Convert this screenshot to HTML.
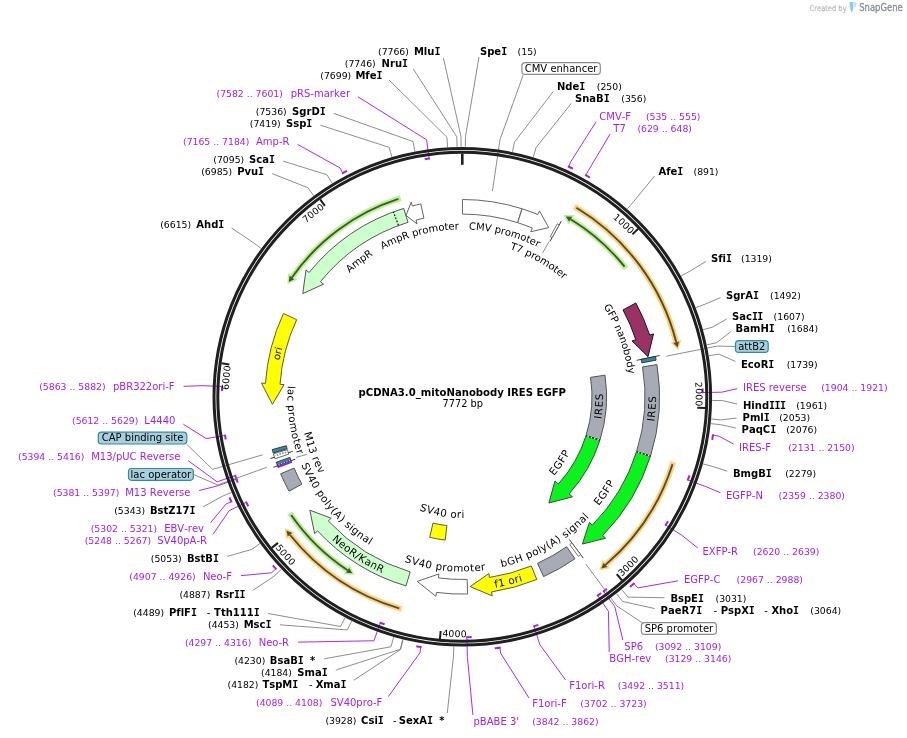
<!DOCTYPE html>
<html><head><meta charset="utf-8"><title>pCDNA3.0_mitoNanobody IRES EGFP</title>
<style>html,body{margin:0;padding:0;background:#fff}svg{display:block;will-change:transform}text{font-family:'DejaVu Sans','Liberation Sans',sans-serif;font-variant-ligatures:none;font-kerning:none}</style></head>
<body><svg width="907" height="738" viewBox="0 0 907 738">
<rect width="907" height="738" fill="#fff"/>
<defs>
<path id="tp1" d="M583.62 197.29 A233.50 233.50 0 0 1 630.34 234.67"/>
<path id="tp2" d="M690.37 346.75 A233.50 233.50 0 0 1 695.60 406.36"/>
<path id="tp3" d="M621.65 576.80 A240.40 240.40 0 0 0 661.17 531.87"/>
<path id="tp4" d="M442.17 636.36 A240.40 240.40 0 0 0 501.96 633.91"/>
<path id="tp5" d="M275.15 547.68 A240.40 240.40 0 0 0 318.21 589.24"/>
<path id="tp6" d="M230.59 425.65 A233.50 233.50 0 0 1 230.87 365.81"/>
<path id="tp7" d="M281.41 249.15 A233.50 233.50 0 0 1 324.88 208.02"/>
<path id="tp8" d="M309.94 327.21 A167.50 167.50 0 0 1 629.27 410.09"/>
<path id="tp9" d="M342.32 298.59 A155.05 155.05 0 0 1 608.64 448.05"/>
<path id="tp10" d="M432.64 231.95 A167.50 167.50 0 0 1 546.56 541.57"/>
<path id="tp11" d="M484.22 589.21 A193.65 193.65 0 0 0 507.51 208.50"/>
<path id="tp12" d="M477.49 536.63 A140.65 140.65 0 0 0 495.85 260.21"/>
<path id="tp13" d="M391.48 556.61 A174.80 174.80 0 0 0 583.51 270.85"/>
<path id="tp14" d="M413.22 507.56 A121.15 121.15 0 0 0 546.31 309.51"/>
<path id="tp15" d="M328.00 508.69 A174.80 174.80 0 0 0 626.77 337.59"/>
<path id="tp16" d="M285.39 475.56 A193.65 193.65 0 0 0 655.48 383.29"/>
<path id="tp17" d="M287.97 409.60 A174.80 174.80 0 0 0 630.50 444.39"/>
<path id="tp18" d="M341.15 397.22 A121.15 121.15 0 0 0 576.29 437.84"/>
<path id="tp19" d="M284.58 319.89 A193.65 193.65 0 0 0 603.00 529.85"/>
<path id="tp20" d="M327.42 285.61 A174.80 174.80 0 0 0 551.02 547.41"/>
<path id="tp21" d="M379.66 257.06 A162.35 162.35 0 0 0 492.16 556.38"/>
<path id="tp22" d="M408.57 230.46 A174.80 174.80 0 0 0 455.89 571.48"/>
<path id="tp23" d="M388.89 568.08 A186.35 186.35 0 0 1 472.70 210.74"/>
<path id="tp24" d="M313.32 473.36 A167.50 167.50 0 0 1 576.11 273.90"/>
<path id="tp25" d="M295.39 410.82 A167.50 167.50 0 0 1 614.35 326.54"/>
</defs>
<path d="M574.38 206.56 A220.80 220.80 0 0 1 675.96 341.08" fill="none" stroke="#ffd27a" stroke-width="5.8"/>
<path d="M681.37 339.67 L678.15 350.33 L670.54 342.50 Z" fill="#ffd27a"/>
<path d="M576.44 207.79 A220.80 220.80 0 0 1 676.25 342.25" fill="none" stroke="rgba(28,28,16,0.74)" stroke-width="1.9"/>
<path d="M679.06 341.53 L677.55 347.59 L673.44 342.96 Z" fill="rgba(28,28,16,0.74)"/>
<path d="M626.07 268.56 A208.00 208.00 0 0 0 571.67 219.87" fill="none" stroke="#b4f58c" stroke-width="5.8"/>
<path d="M574.61 215.11 L563.47 215.06 L568.72 224.64 Z" fill="#b4f58c"/>
<path d="M624.58 266.68 A208.00 208.00 0 0 0 570.64 219.25" fill="none" stroke="rgba(28,28,16,0.74)" stroke-width="1.9"/>
<path d="M572.15 216.77 L565.91 216.44 L569.13 221.72 Z" fill="rgba(28,28,16,0.74)"/>
<path d="M673.27 461.96 A220.80 220.80 0 0 1 606.40 564.10" fill="none" stroke="#ffd27a" stroke-width="5.8"/>
<path d="M610.06 568.34 L599.07 570.14 L602.75 559.85 Z" fill="#ffd27a"/>
<path d="M672.55 464.25 A220.80 220.80 0 0 1 605.49 564.88" fill="none" stroke="rgba(28,28,16,0.74)" stroke-width="1.9"/>
<path d="M607.37 567.08 L601.26 568.39 L603.61 562.67 Z" fill="rgba(28,28,16,0.74)"/>
<path d="M401.59 609.09 A220.80 220.80 0 0 1 290.66 535.69" fill="none" stroke="#ffd27a" stroke-width="5.8"/>
<path d="M286.30 539.22 L284.84 528.18 L295.01 532.17 Z" fill="#ffd27a"/>
<path d="M399.28 608.42 A220.80 220.80 0 0 1 289.91 534.76" fill="none" stroke="rgba(28,28,16,0.74)" stroke-width="1.9"/>
<path d="M287.64 536.57 L286.52 530.42 L292.17 532.95 Z" fill="rgba(28,28,16,0.74)"/>
<path d="M289.83 513.07 A208.00 208.00 0 0 0 346.57 569.63" fill="none" stroke="#b4f58c" stroke-width="5.8"/>
<path d="M343.46 574.28 L354.58 574.74 L349.69 564.98 Z" fill="#b4f58c"/>
<path d="M291.19 515.05 A208.00 208.00 0 0 0 347.57 570.30" fill="none" stroke="rgba(28,28,16,0.74)" stroke-width="1.9"/>
<path d="M345.97 572.72 L352.20 573.27 L349.17 567.88 Z" fill="rgba(28,28,16,0.74)"/>
<path d="M400.73 198.12 A208.00 208.00 0 0 0 292.62 276.50" fill="none" stroke="#b4f58c" stroke-width="5.8"/>
<path d="M288.05 273.26 L287.30 284.37 L297.19 279.74 Z" fill="#b4f58c"/>
<path d="M398.44 198.85 A208.00 208.00 0 0 0 291.93 277.48" fill="none" stroke="rgba(28,28,16,0.74)" stroke-width="1.9"/>
<path d="M289.55 275.82 L288.83 282.03 L294.30 279.15 Z" fill="rgba(28,28,16,0.74)"/>
<path d="M462.46 199.50 A197.30 197.30 0 0 1 521.96 208.74 L517.55 222.65 A182.70 182.70 0 0 0 462.45 214.10 Z" fill="#fff" stroke="#666" stroke-width="1.0" stroke-linejoin="miter" />
<path d="M522.12 208.79 A197.30 197.30 0 0 1 537.89 214.55 L539.42 210.86 L548.71 227.59 L530.77 231.74 L532.30 228.04 A182.70 182.70 0 0 0 517.69 222.70 Z" fill="#fff" stroke="#666" stroke-width="1.0" stroke-linejoin="miter" />
<line x1="549.82" y1="241.57" x2="561.31" y2="221.19" stroke="#222" stroke-width="0.9"/>
<path d="M557.24 223.85 A197.30 197.30 0 0 1 559.20 224.93 L552.03 237.65 A182.70 182.70 0 0 0 550.22 236.64 Z" fill="#fff" stroke="#555" stroke-width="0.8" stroke-linejoin="miter" />
<path d="M635.86 302.98 A197.30 197.30 0 0 1 649.72 335.13 L653.51 333.88 L648.02 356.71 L632.05 340.95 L635.85 339.70 A182.70 182.70 0 0 0 623.02 309.92 Z" fill="#993366" stroke="#241018" stroke-width="1.0" stroke-linejoin="miter" />
<line x1="636.73" y1="360.32" x2="659.63" y2="355.53" stroke="#222" stroke-width="0.9"/>
<path d="M655.42 356.41 A197.30 197.30 0 0 1 656.17 360.17 L641.82 362.88 A182.70 182.70 0 0 0 641.13 359.40 Z" fill="#2e8ba3" stroke="#222" stroke-width="0.8" stroke-linejoin="miter" />
<path d="M656.95 364.57 A197.30 197.30 0 0 1 650.51 456.01 L636.58 451.63 A182.70 182.70 0 0 0 642.55 366.95 Z" fill="#a6abb6" stroke="#555" stroke-width="1.0" stroke-linejoin="miter" />
<path d="M650.46 456.16 A197.30 197.30 0 0 1 602.71 535.41 L605.55 538.22 L582.35 544.07 L589.47 522.34 L592.32 525.15 A182.70 182.70 0 0 0 636.54 451.77 Z" fill="#0cf21c" stroke="#3c4a3c" stroke-width="1.0" stroke-linejoin="miter" />
<line x1="636.56" y1="451.70" x2="650.48" y2="456.08" stroke="#2a2a2a" stroke-width="1.2"/>
<line x1="637.99" y1="452.15" x2="650.48" y2="456.08" stroke="#fff" stroke-width="1.3" stroke-dasharray="1.3 2.2"/>
<line x1="569.22" y1="539.36" x2="583.26" y2="558.08" stroke="#222" stroke-width="0.9"/>
<path d="M580.68 554.64 A197.30 197.30 0 0 1 578.37 556.34 L569.78 544.54 A182.70 182.70 0 0 0 571.92 542.96 Z" fill="#fff" stroke="#555" stroke-width="0.8" stroke-linejoin="miter" />
<path d="M574.99 558.75 A197.30 197.30 0 0 1 543.55 576.59 L537.54 563.29 A182.70 182.70 0 0 0 566.66 546.76 Z" fill="#a6abb6" stroke="#555" stroke-width="1.0" stroke-linejoin="miter" />
<path d="M536.81 579.49 A197.30 197.30 0 0 1 491.61 591.91 L492.21 595.87 L470.13 586.64 L488.85 573.52 L489.44 577.47 A182.70 182.70 0 0 0 531.29 565.97 Z" fill="#ffff00" stroke="#5c5c3c" stroke-width="1.0" stroke-linejoin="miter" />
<path d="M467.56 594.03 A197.30 197.30 0 0 1 436.45 592.40 L435.92 596.36 L417.27 581.39 L438.89 573.96 L438.36 577.92 A182.70 182.70 0 0 0 467.17 579.43 Z" fill="#fff" stroke="#666" stroke-width="1.0" stroke-linejoin="miter" />
<path d="M405.99 585.89 A197.30 197.30 0 0 1 317.58 530.91 L314.65 533.63 L309.84 510.19 L331.23 518.26 L328.29 520.98 A182.70 182.70 0 0 0 410.16 571.90 Z" fill="#ccffcc" stroke="#555" stroke-width="1.0" stroke-linejoin="miter" />
<path d="M289.04 491.18 A197.30 197.30 0 0 1 280.65 473.81 L294.09 468.11 A182.70 182.70 0 0 0 301.86 484.20 Z" fill="#a6abb6" stroke="#555" stroke-width="1.0" stroke-linejoin="miter" />
<line x1="295.36" y1="459.13" x2="273.43" y2="467.31" stroke="#222" stroke-width="0.9"/>
<path d="M278.14 467.60 A197.30 197.30 0 0 1 277.24 465.21 L290.93 460.15 A182.70 182.70 0 0 0 291.77 462.36 Z" fill="#a020f0" stroke="#5a1a80" stroke-width="0.8" stroke-linejoin="miter" />
<path d="M277.19 465.06 A197.30 197.30 0 0 1 276.16 462.21 L289.93 457.37 A182.70 182.70 0 0 0 290.88 460.01 Z" fill="#2e8ba3" stroke="#222" stroke-width="0.8" stroke-linejoin="miter" />
<line x1="290.16" y1="460.36" x2="277.68" y2="464.96" stroke="#fff" stroke-width="0.8" stroke-dasharray="1.4 1.4"/>
<line x1="292.66" y1="451.37" x2="270.39" y2="458.54" stroke="#222" stroke-width="0.9"/>
<path d="M274.97 458.74 A197.30 197.30 0 0 1 273.44 453.87 L287.41 449.65 A182.70 182.70 0 0 0 288.84 454.16 Z" fill="#fff" stroke="#444" stroke-width="0.8" stroke-linejoin="miter" />
<line x1="286.30" y1="452.17" x2="275.33" y2="455.62" stroke="#888" stroke-width="1.6" stroke-dasharray="1.6 1.2"/>
<path d="M273.16 452.96 A197.30 197.30 0 0 1 272.19 449.58 L286.26 445.68 A182.70 182.70 0 0 0 287.16 448.80 Z" fill="#2e8ba3" stroke="#222" stroke-width="0.8" stroke-linejoin="miter" />
<path d="M283.44 313.52 A197.30 197.30 0 0 0 265.46 383.34 L261.47 383.07 L272.45 404.32 L284.02 384.61 L280.03 384.33 A182.70 182.70 0 0 1 296.67 319.68 Z" fill="#ffff00" stroke="#5c5c3c" stroke-width="1.0" stroke-linejoin="miter" />
<path d="M403.70 208.40 A197.30 197.30 0 0 0 309.12 272.45 L306.01 269.93 L302.75 293.63 L323.56 284.17 L320.45 281.65 A182.70 182.70 0 0 1 408.04 222.34 Z" fill="#ccffcc" stroke="#555" stroke-width="1.0" stroke-linejoin="miter" />
<line x1="398.43" y1="225.31" x2="393.44" y2="211.91" stroke="#000" stroke-width="1.1" stroke-dasharray="1.8 1.5"/>
<path d="M420.82 203.91 A197.30 197.30 0 0 0 412.29 205.94 L411.27 202.07 L406.02 215.33 L417.00 223.94 L415.99 220.07 A182.70 182.70 0 0 1 423.89 218.18 Z" fill="#fff" stroke="#666" stroke-width="1.0" stroke-linejoin="miter" />
<path d="M604.97 375.18 A144.30 144.30 0 0 1 599.95 440.10 L586.02 435.72 A129.70 129.70 0 0 0 590.54 377.37 Z" fill="#a6abb6" stroke="#555" stroke-width="1.0" stroke-linejoin="miter" />
<path d="M599.91 440.21 A144.30 144.30 0 0 1 569.13 493.80 L572.46 496.83 L548.86 502.99 L554.99 480.96 L558.32 483.99 A129.70 129.70 0 0 0 585.99 435.82 Z" fill="#0cf21c" stroke="#3c4a3c" stroke-width="1.0" stroke-linejoin="miter" />
<line x1="586.01" y1="435.77" x2="599.93" y2="440.16" stroke="#2a2a2a" stroke-width="1.2"/>
<line x1="587.44" y1="436.22" x2="599.93" y2="440.16" stroke="#fff" stroke-width="1.3" stroke-dasharray="1.3 2.2"/>
<path d="M445.19 540.08 A144.30 144.30 0 0 1 429.69 537.37 L432.99 523.14 A129.70 129.70 0 0 0 446.92 525.59 Z" fill="#ffff00" stroke="#5c5c3c" stroke-width="1.0" stroke-linejoin="miter" />
<polyline points="443.42,57.88 461.04,136.80 461.09,146.80" fill="none" stroke="#808080" stroke-width="0.9" stroke-linejoin="round"/>
<polyline points="413.28,68.94 456.84,136.86 457.05,146.86" fill="none" stroke="#808080" stroke-width="0.9" stroke-linejoin="round"/>
<polyline points="388.98,79.97 446.96,137.25 447.55,147.24" fill="none" stroke="#808080" stroke-width="0.9" stroke-linejoin="round"/>
<polyline points="333.80,113.39 412.99,141.52 414.89,151.34" fill="none" stroke="#808080" stroke-width="0.9" stroke-linejoin="round"/>
<polyline points="320.46,125.20 389.10,147.32 391.92,156.91" fill="none" stroke="#808080" stroke-width="0.9" stroke-linejoin="round"/>
<polyline points="283.08,161.13 327.00,174.78 332.20,183.32" fill="none" stroke="#808080" stroke-width="0.9" stroke-linejoin="round"/>
<polyline points="272.11,173.61 307.81,187.67 313.76,195.72" fill="none" stroke="#808080" stroke-width="0.9" stroke-linejoin="round"/>
<polyline points="231.60,227.97 253.05,242.48 261.10,248.42" fill="none" stroke="#808080" stroke-width="0.9" stroke-linejoin="round"/>
<polyline points="203.12,506.86 222.11,496.35 231.35,492.52" fill="none" stroke="#808080" stroke-width="0.9" stroke-linejoin="round"/>
<polyline points="227.14,556.36 251.81,549.42 259.90,543.55" fill="none" stroke="#808080" stroke-width="0.9" stroke-linejoin="round"/>
<polyline points="252.83,590.37 274.12,576.21 281.36,569.31" fill="none" stroke="#808080" stroke-width="0.9" stroke-linejoin="round"/>
<polyline points="268.09,613.49 340.51,626.51 345.20,617.68" fill="none" stroke="#808080" stroke-width="0.9" stroke-linejoin="round"/>
<polyline points="279.98,624.79 347.25,629.96 351.67,620.99" fill="none" stroke="#808080" stroke-width="0.9" stroke-linejoin="round"/>
<polyline points="324.09,658.81 390.92,646.81 393.67,637.19" fill="none" stroke="#808080" stroke-width="0.9" stroke-linejoin="round"/>
<polyline points="335.86,670.10 400.27,649.29 402.65,639.58" fill="none" stroke="#808080" stroke-width="0.9" stroke-linejoin="round"/>
<polyline points="353.85,680.20 400.67,649.39 403.04,639.68" fill="none" stroke="#808080" stroke-width="0.9" stroke-linejoin="round"/>
<polyline points="447.27,712.99 453.47,656.65 453.81,646.66" fill="none" stroke="#808080" stroke-width="0.9" stroke-linejoin="round"/>
<polyline points="479.00,56.97 465.45,136.82 465.33,146.82" fill="none" stroke="#808080" stroke-width="0.9" stroke-linejoin="round"/>
<polyline points="553.25,91.51 514.49,142.09 512.48,151.89" fill="none" stroke="#808080" stroke-width="0.9" stroke-linejoin="round"/>
<polyline points="571.26,103.44 536.10,147.49 533.26,157.08" fill="none" stroke="#808080" stroke-width="0.9" stroke-linejoin="round"/>
<polyline points="654.60,175.99 633.80,201.39 627.21,208.90" fill="none" stroke="#808080" stroke-width="0.9" stroke-linejoin="round"/>
<polyline points="705.87,261.46 689.91,271.13 681.16,275.97" fill="none" stroke="#808080" stroke-width="0.9" stroke-linejoin="round"/>
<polyline points="720.47,297.67 705.21,304.09 695.87,307.65" fill="none" stroke="#808080" stroke-width="0.9" stroke-linejoin="round"/>
<polyline points="726.80,318.95 712.77,327.04 703.13,329.72" fill="none" stroke="#808080" stroke-width="0.9" stroke-linejoin="round"/>
<polyline points="730.87,331.64 716.62,342.76 706.84,344.84" fill="none" stroke="#808080" stroke-width="0.9" stroke-linejoin="round"/>
<polyline points="735.50,361.44 718.77,354.11 708.91,355.76" fill="none" stroke="#808080" stroke-width="0.9" stroke-linejoin="round"/>
<polyline points="737.15,404.01 722.27,400.58 712.27,400.44" fill="none" stroke="#808080" stroke-width="0.9" stroke-linejoin="round"/>
<polyline points="736.64,418.06 721.27,419.89 711.31,419.00" fill="none" stroke="#808080" stroke-width="0.9" stroke-linejoin="round"/>
<polyline points="735.74,428.04 720.80,424.70 710.86,423.63" fill="none" stroke="#808080" stroke-width="0.9" stroke-linejoin="round"/>
<polyline points="727.28,471.14 712.77,466.56 703.13,463.88" fill="none" stroke="#808080" stroke-width="0.9" stroke-linejoin="round"/>
<polyline points="664.40,597.75 628.04,597.12 621.67,589.42" fill="none" stroke="#808080" stroke-width="0.9" stroke-linejoin="round"/>
<polyline points="654.74,608.56 622.64,601.47 616.47,593.60" fill="none" stroke="#808080" stroke-width="0.9" stroke-linejoin="round"/>
<polyline points="357.93,96.77 426.54,139.78 429.17,158.69" fill="none" stroke="#a020f0" stroke-width="0.95" stroke-linejoin="round"/>
<path d="M429.96 158.58 A240.40 240.40 0 0 0 424.73 159.35" fill="none" stroke="#a020f0" stroke-width="2.0"/>
<polyline points="297.62,144.44 340.01,167.92 342.79,173.13" fill="none" stroke="#a020f0" stroke-width="0.95" stroke-linejoin="round"/>
<path d="M342.08 173.50 A253.60 253.60 0 0 1 346.95 170.95" fill="none" stroke="#a020f0" stroke-width="2.0"/>
<polyline points="183.60,386.32 203.04,385.68 222.12,386.50" fill="none" stroke="#a020f0" stroke-width="0.95" stroke-linejoin="round"/>
<path d="M222.16 385.70 A240.40 240.40 0 0 0 221.97 390.99" fill="none" stroke="#a020f0" stroke-width="2.0"/>
<polyline points="183.32,424.18 206.18,438.58 225.04,435.50" fill="none" stroke="#a020f0" stroke-width="0.95" stroke-linejoin="round"/>
<path d="M224.91 434.71 A240.40 240.40 0 0 0 225.73 439.55" fill="none" stroke="#a020f0" stroke-width="2.0"/>
<polyline points="188.05,460.58 217.13,481.84 235.18,475.58" fill="none" stroke="#a020f0" stroke-width="0.95" stroke-linejoin="round"/>
<path d="M234.91 474.83 A240.40 240.40 0 0 0 236.89 480.36" fill="none" stroke="#a020f0" stroke-width="2.0"/>
<polyline points="199.18,490.52 218.47,485.60 236.41,479.06" fill="none" stroke="#a020f0" stroke-width="0.95" stroke-linejoin="round"/>
<path d="M236.14 478.31 A240.40 240.40 0 0 0 237.78 482.72" fill="none" stroke="#a020f0" stroke-width="2.0"/>
<polyline points="210.46,522.85 226.00,504.04 231.37,501.61" fill="none" stroke="#a020f0" stroke-width="0.95" stroke-linejoin="round"/>
<path d="M231.70 502.33 A253.60 253.60 0 0 1 229.47 497.31" fill="none" stroke="#a020f0" stroke-width="2.0"/>
<polyline points="212.94,534.46 229.13,510.69 246.29,502.30" fill="none" stroke="#a020f0" stroke-width="0.95" stroke-linejoin="round"/>
<path d="M245.94 501.59 A240.40 240.40 0 0 0 248.30 506.32" fill="none" stroke="#a020f0" stroke-width="2.0"/>
<polyline points="240.97,575.61 271.61,572.81 275.95,568.80" fill="none" stroke="#a020f0" stroke-width="0.95" stroke-linejoin="round"/>
<path d="M276.49 569.39 A253.60 253.60 0 0 1 272.79 565.32" fill="none" stroke="#a020f0" stroke-width="2.0"/>
<polyline points="298.00,642.13 373.90,640.78 380.40,622.82" fill="none" stroke="#a020f0" stroke-width="0.95" stroke-linejoin="round"/>
<path d="M379.65 622.55 A240.40 240.40 0 0 0 384.64 624.31" fill="none" stroke="#a020f0" stroke-width="2.0"/>
<polyline points="388.39,696.57 419.90,652.81 420.87,646.99" fill="none" stroke="#a020f0" stroke-width="0.95" stroke-linejoin="round"/>
<path d="M421.66 647.12 A253.60 253.60 0 0 1 416.24 646.18" fill="none" stroke="#a020f0" stroke-width="2.0"/>
<polyline points="596.08,121.81 571.07,161.20 568.60,166.55" fill="none" stroke="#a020f0" stroke-width="0.95" stroke-linejoin="round"/>
<path d="M567.87 166.22 A253.60 253.60 0 0 1 573.03 168.65" fill="none" stroke="#a020f0" stroke-width="2.0"/>
<polyline points="610.23,133.90 588.64,170.13 585.77,175.29" fill="none" stroke="#a020f0" stroke-width="0.95" stroke-linejoin="round"/>
<path d="M585.07 174.90 A253.60 253.60 0 0 1 589.85 177.61" fill="none" stroke="#a020f0" stroke-width="2.0"/>
<polyline points="737.15,388.68 721.76,392.18 702.66,392.52" fill="none" stroke="#a020f0" stroke-width="0.95" stroke-linejoin="round"/>
<path d="M702.67 393.32 A240.40 240.40 0 0 0 702.55 388.42" fill="none" stroke="#a020f0" stroke-width="2.0"/>
<polyline points="733.72,444.11 718.81,436.09 712.98,435.20" fill="none" stroke="#a020f0" stroke-width="0.95" stroke-linejoin="round"/>
<path d="M713.10 434.40 A253.60 253.60 0 0 1 712.22 439.83" fill="none" stroke="#a020f0" stroke-width="2.0"/>
<polyline points="720.47,492.73 705.77,486.58 687.85,479.97" fill="none" stroke="#a020f0" stroke-width="0.95" stroke-linejoin="round"/>
<path d="M687.57 480.72 A240.40 240.40 0 0 0 689.50 475.38" fill="none" stroke="#a020f0" stroke-width="2.0"/>
<polyline points="697.81,548.01 681.79,535.23 665.64,525.04" fill="none" stroke="#a020f0" stroke-width="0.95" stroke-linejoin="round"/>
<path d="M665.21 525.72 A240.40 240.40 0 0 0 668.00 521.22" fill="none" stroke="#a020f0" stroke-width="2.0"/>
<polyline points="678.09,580.80 637.84,587.91 633.85,583.57" fill="none" stroke="#a020f0" stroke-width="0.95" stroke-linejoin="round"/>
<path d="M634.44 583.03 A253.60 253.60 0 0 1 630.06 586.99" fill="none" stroke="#a020f0" stroke-width="2.0"/>
<polyline points="622.89,640.12 614.80,606.76 603.57,591.31" fill="none" stroke="#a020f0" stroke-width="0.95" stroke-linejoin="round"/>
<path d="M602.92 591.78 A240.40 240.40 0 0 0 606.87 588.87" fill="none" stroke="#a020f0" stroke-width="2.0"/>
<polyline points="609.19,651.95 608.45,611.23 597.69,595.45" fill="none" stroke="#a020f0" stroke-width="0.95" stroke-linejoin="round"/>
<path d="M597.03 595.90 A240.40 240.40 0 0 0 601.06 593.11" fill="none" stroke="#a020f0" stroke-width="2.0"/>
<polyline points="565.67,680.10 539.77,644.47 534.07,626.24" fill="none" stroke="#a020f0" stroke-width="0.95" stroke-linejoin="round"/>
<path d="M533.31 626.47 A240.40 240.40 0 0 0 538.34 624.86" fill="none" stroke="#a020f0" stroke-width="2.0"/>
<polyline points="528.99,697.98 500.76,653.43 499.88,647.60" fill="none" stroke="#a020f0" stroke-width="0.95" stroke-linejoin="round"/>
<path d="M500.68 647.48 A253.60 253.60 0 0 1 494.83 648.31" fill="none" stroke="#a020f0" stroke-width="2.0"/>
<polyline points="472.93,715.08 467.33,656.25 466.96,637.15" fill="none" stroke="#a020f0" stroke-width="0.95" stroke-linejoin="round"/>
<path d="M466.16 637.17 A240.40 240.40 0 0 0 471.65 637.02" fill="none" stroke="#a020f0" stroke-width="2.0"/>
<polyline points="523.20,75.00 500.00,139.55 492.46,191.00" fill="none" stroke="#808080" stroke-width="0.9"/>
<polyline points="735.50,346.50 717.30,346.05 666.30,356.20" fill="none" stroke="#808080" stroke-width="0.9"/>
<polyline points="642.00,622.60 616.79,605.93 585.89,564.10" fill="none" stroke="#808080" stroke-width="0.9"/>
<polyline points="186.60,444.20 212.64,469.39 262.57,454.87" fill="none" stroke="#808080" stroke-width="0.9"/>
<polyline points="193.30,474.40 217.71,484.98 266.63,467.34" fill="none" stroke="#808080" stroke-width="0.9"/>
<line x1="548.85" y1="241.83" x2="542.51" y2="253.18" stroke="#808080" stroke-width="0.9"/>
<line x1="296.10" y1="457.40" x2="306.90" y2="454.40" stroke="#808080" stroke-width="0.9"/>
<path d="M849.7 1.9 L853.4 1.9 L853.4 8 L852 12.6 L851.3 12.6 L849.7 6.2 Z" fill="#86ccf4"/><path d="M853.9 2.2 L855.5 2.2 Q856.8 3.6 856.3 5.2 L855 7.2 L853.9 7.2 Z" fill="#bfe3f9"/>
<circle cx="462.3" cy="396.8" r="248.3" fill="none" stroke="#1f1f1f" stroke-width="3.0"/>
<circle cx="462.3" cy="396.8" r="244.5" fill="none" stroke="#1f1f1f" stroke-width="3.0"/>
<line x1="462.30" y1="153.60" x2="462.30" y2="164.80" stroke="#1f1f1f" stroke-width="2.6"/>
<line x1="638.18" y1="228.84" x2="632.40" y2="234.36" stroke="#1f1f1f" stroke-width="2.0"/>
<line x1="705.24" y1="408.00" x2="697.25" y2="407.63" stroke="#1f1f1f" stroke-width="2.0"/>
<line x1="621.98" y1="580.23" x2="616.73" y2="574.20" stroke="#1f1f1f" stroke-width="2.0"/>
<line x1="439.92" y1="638.97" x2="440.65" y2="631.00" stroke="#1f1f1f" stroke-width="2.0"/>
<line x1="271.70" y1="547.86" x2="277.97" y2="542.89" stroke="#1f1f1f" stroke-width="2.0"/>
<line x1="221.42" y1="363.29" x2="229.34" y2="364.39" stroke="#1f1f1f" stroke-width="2.0"/>
<line x1="320.18" y1="199.45" x2="324.85" y2="205.94" stroke="#1f1f1f" stroke-width="2.0"/>
<text font-size="9.3" fill="#000" letter-spacing="0.15"><textPath href="#tp1" startOffset="100%" text-anchor="end">1000</textPath></text>
<text font-size="9.3" fill="#000" letter-spacing="0.15"><textPath href="#tp2" startOffset="100%" text-anchor="end">2000</textPath></text>
<text font-size="9.3" fill="#000" letter-spacing="0.25"><textPath href="#tp3" startOffset="0%" text-anchor="start">3000</textPath></text>
<text font-size="9.3" fill="#000" letter-spacing="0.25"><textPath href="#tp4" startOffset="0%" text-anchor="start">4000</textPath></text>
<text font-size="9.3" fill="#000" letter-spacing="0.25"><textPath href="#tp5" startOffset="0%" text-anchor="start">5000</textPath></text>
<text font-size="9.3" fill="#000" letter-spacing="0.15"><textPath href="#tp6" startOffset="100%" text-anchor="end">6000</textPath></text>
<text font-size="9.3" fill="#000" letter-spacing="0.15"><textPath href="#tp7" startOffset="100%" text-anchor="end">7000</textPath></text>
<text font-size="10" fill="#000" font-weight="normal"><textPath href="#tp8" startOffset="50%" text-anchor="middle">CMV promoter</textPath></text>
<text font-size="10" fill="#000" font-weight="normal"><textPath href="#tp9" startOffset="50%" text-anchor="middle">T7 promoter</textPath></text>
<text font-size="10" fill="#000" font-weight="normal"><textPath href="#tp10" startOffset="50%" text-anchor="middle">GFP nanobody</textPath></text>
<text font-size="10.3" fill="#000" font-weight="normal" letter-spacing="0.85"><textPath href="#tp11" startOffset="50%" text-anchor="middle">IRES</textPath></text>
<text font-size="10.3" fill="#000" font-weight="normal" letter-spacing="0.85"><textPath href="#tp12" startOffset="50%" text-anchor="middle">IRES</textPath></text>
<text font-size="10.3" fill="#000" font-weight="normal" letter-spacing="0.65"><textPath href="#tp13" startOffset="50%" text-anchor="middle">EGFP</textPath></text>
<text font-size="10.3" fill="#000" font-weight="normal" letter-spacing="0.65"><textPath href="#tp14" startOffset="50%" text-anchor="middle">EGFP</textPath></text>
<text font-size="10.3" fill="#000" font-weight="normal" letter-spacing="0.36"><textPath href="#tp15" startOffset="50%" text-anchor="middle">bGH poly(A) signal</textPath></text>
<text font-size="10.3" fill="#000" font-weight="normal" letter-spacing="0.36"><textPath href="#tp16" startOffset="50%" text-anchor="middle">f1 ori</textPath></text>
<text font-size="10.3" fill="#000" font-weight="normal" letter-spacing="0.36"><textPath href="#tp17" startOffset="50%" text-anchor="middle">SV40 promoter</textPath></text>
<text font-size="10.3" fill="#000" font-weight="normal" letter-spacing="0.36"><textPath href="#tp18" startOffset="50%" text-anchor="middle">SV40 ori</textPath></text>
<text font-size="10.3" fill="#000" font-weight="normal" letter-spacing="0.36"><textPath href="#tp19" startOffset="50%" text-anchor="middle">NeoR/KanR</textPath></text>
<text font-size="10.3" fill="#000" font-weight="normal" letter-spacing="0.36"><textPath href="#tp20" startOffset="50%" text-anchor="middle">SV40 poly(A) signal</textPath></text>
<text font-size="10.3" fill="#000" font-weight="normal" letter-spacing="0.36"><textPath href="#tp21" startOffset="50%" text-anchor="middle">M13 rev</textPath></text>
<text font-size="10.3" fill="#000" font-weight="normal" letter-spacing="0.36"><textPath href="#tp22" startOffset="50%" text-anchor="middle">lac promoter</textPath></text>
<text font-size="10" fill="#000" font-weight="normal"><textPath href="#tp23" startOffset="50%" text-anchor="middle">ori</textPath></text>
<text font-size="10" fill="#000" font-weight="normal"><textPath href="#tp24" startOffset="50%" text-anchor="middle">AmpR</textPath></text>
<text font-size="10" fill="#000" font-weight="normal"><textPath href="#tp25" startOffset="50%" text-anchor="middle">AmpR promoter</textPath></text>
<text x="439.90" y="54.70" text-anchor="end" font-size="10" font-weight="bold" fill="#000">Mlu<tspan font-family="'DejaVu Sans Mono','Liberation Mono',monospace" letter-spacing="-0.55">I</tspan></text>
<text x="378.00" y="54.70" text-anchor="start" font-size="9.3" fill="#000">(7766)</text>
<text x="407.50" y="66.70" text-anchor="end" font-size="10" font-weight="bold" fill="#000">Nru<tspan font-family="'DejaVu Sans Mono','Liberation Mono',monospace" letter-spacing="-0.55">I</tspan></text>
<text x="344.80" y="66.70" text-anchor="start" font-size="9.3" fill="#000">(7746)</text>
<text x="382.00" y="78.70" text-anchor="end" font-size="10" font-weight="bold" fill="#000">Mfe<tspan font-family="'DejaVu Sans Mono','Liberation Mono',monospace" letter-spacing="-0.55">I</tspan></text>
<text x="320.30" y="78.70" text-anchor="start" font-size="9.3" fill="#000">(7699)</text>
<text x="325.20" y="114.70" text-anchor="end" font-size="10" font-weight="bold" fill="#000">SgrD<tspan font-family="'DejaVu Sans Mono','Liberation Mono',monospace" letter-spacing="-0.55">I</tspan></text>
<text x="255.80" y="114.70" text-anchor="start" font-size="9.3" fill="#000">(7536)</text>
<text x="311.80" y="126.70" text-anchor="end" font-size="10" font-weight="bold" fill="#000">Ssp<tspan font-family="'DejaVu Sans Mono','Liberation Mono',monospace" letter-spacing="-0.55">I</tspan></text>
<text x="249.80" y="126.70" text-anchor="start" font-size="9.3" fill="#000">(7419)</text>
<text x="274.40" y="162.70" text-anchor="end" font-size="10" font-weight="bold" fill="#000">Sca<tspan font-family="'DejaVu Sans Mono','Liberation Mono',monospace" letter-spacing="-0.55">I</tspan></text>
<text x="213.30" y="162.70" text-anchor="start" font-size="9.3" fill="#000">(7095)</text>
<text x="263.60" y="174.70" text-anchor="end" font-size="10" font-weight="bold" fill="#000">Pvu<tspan font-family="'DejaVu Sans Mono','Liberation Mono',monospace" letter-spacing="-0.55">I</tspan></text>
<text x="201.20" y="174.70" text-anchor="start" font-size="9.3" fill="#000">(6985)</text>
<text x="223.80" y="227.70" text-anchor="end" font-size="10" font-weight="bold" fill="#000">Ahd<tspan font-family="'DejaVu Sans Mono','Liberation Mono',monospace" letter-spacing="-0.55">I</tspan></text>
<text x="160.20" y="227.70" text-anchor="start" font-size="9.3" fill="#000">(6615)</text>
<text x="195.00" y="513.90" text-anchor="end" font-size="10" font-weight="bold" fill="#000">BstZ17<tspan font-family="'DejaVu Sans Mono','Liberation Mono',monospace" letter-spacing="-0.55">I</tspan></text>
<text x="114.20" y="513.90" text-anchor="start" font-size="9.3" fill="#000">(5343)</text>
<text x="218.40" y="561.90" text-anchor="end" font-size="10" font-weight="bold" fill="#000">BstB<tspan font-family="'DejaVu Sans Mono','Liberation Mono',monospace" letter-spacing="-0.55">I</tspan></text>
<text x="150.80" y="561.90" text-anchor="start" font-size="9.3" fill="#000">(5053)</text>
<text x="245.00" y="597.90" text-anchor="end" font-size="10" font-weight="bold" fill="#000">Rsr<tspan font-family="'DejaVu Sans Mono','Liberation Mono',monospace" letter-spacing="-0.55">II</tspan></text>
<text x="179.40" y="597.90" text-anchor="start" font-size="9.3" fill="#000">(4887)</text>
<text x="196.40" y="615.90" text-anchor="end" font-size="10" font-weight="bold" fill="#000">PflF<tspan font-family="'DejaVu Sans Mono','Liberation Mono',monospace" letter-spacing="-0.55">I</tspan></text>
<text x="206.80" y="615.90" text-anchor="start" font-size="10" font-weight="normal" fill="#000">-</text>
<text x="259.20" y="615.90" text-anchor="end" font-size="10" font-weight="bold" fill="#000">Tth111<tspan font-family="'DejaVu Sans Mono','Liberation Mono',monospace" letter-spacing="-0.55">I</tspan></text>
<text x="259.20" y="615.90" text-anchor="end" font-size="10" font-weight="bold" fill="#000"></text>
<text x="133.20" y="615.90" text-anchor="start" font-size="9.3" fill="#000">(4489)</text>
<text x="271.00" y="627.90" text-anchor="end" font-size="10" font-weight="bold" fill="#000">Msc<tspan font-family="'DejaVu Sans Mono','Liberation Mono',monospace" letter-spacing="-0.55">I</tspan></text>
<text x="208.00" y="627.90" text-anchor="start" font-size="9.3" fill="#000">(4453)</text>
<text x="303.30" y="663.70" text-anchor="end" font-size="10" font-weight="bold" fill="#000">BsaB<tspan font-family="'DejaVu Sans Mono','Liberation Mono',monospace" letter-spacing="-0.55">I</tspan></text>
<text x="315.20" y="663.70" text-anchor="end" font-size="10" font-weight="bold" fill="#000">*</text>
<text x="315.20" y="663.70" text-anchor="end" font-size="10" font-weight="bold" fill="#000"></text>
<text x="234.40" y="663.70" text-anchor="start" font-size="9.3" fill="#000">(4230)</text>
<text x="327.20" y="675.90" text-anchor="end" font-size="10" font-weight="bold" fill="#000">Sma<tspan font-family="'DejaVu Sans Mono','Liberation Mono',monospace" letter-spacing="-0.55">I</tspan></text>
<text x="261.00" y="675.90" text-anchor="start" font-size="9.3" fill="#000">(4184)</text>
<text x="297.80" y="687.70" text-anchor="end" font-size="10" font-weight="bold" fill="#000">TspM<tspan font-family="'DejaVu Sans Mono','Liberation Mono',monospace" letter-spacing="-0.55">I</tspan></text>
<text x="309.00" y="687.70" text-anchor="start" font-size="10" font-weight="normal" fill="#000">-</text>
<text x="346.00" y="687.70" text-anchor="end" font-size="10" font-weight="bold" fill="#000">Xma<tspan font-family="'DejaVu Sans Mono','Liberation Mono',monospace" letter-spacing="-0.55">I</tspan></text>
<text x="346.00" y="687.70" text-anchor="end" font-size="10" font-weight="bold" fill="#000"></text>
<text x="227.50" y="687.70" text-anchor="start" font-size="9.3" fill="#000">(4182)</text>
<text x="383.30" y="723.60" text-anchor="end" font-size="10" font-weight="bold" fill="#000">Csi<tspan font-family="'DejaVu Sans Mono','Liberation Mono',monospace" letter-spacing="-0.55">I</tspan></text>
<text x="393.00" y="723.60" text-anchor="start" font-size="10" font-weight="normal" fill="#000">-</text>
<text x="432.40" y="723.60" text-anchor="end" font-size="10" font-weight="bold" fill="#000">SexA<tspan font-family="'DejaVu Sans Mono','Liberation Mono',monospace" letter-spacing="-0.55">I</tspan></text>
<text x="444.50" y="723.60" text-anchor="end" font-size="10" font-weight="bold" fill="#000">*</text>
<text x="444.50" y="723.60" text-anchor="end" font-size="10" font-weight="bold" fill="#000"></text>
<text x="325.40" y="723.60" text-anchor="start" font-size="9.3" fill="#000">(3928)</text>
<text x="480.00" y="54.70" text-anchor="start" font-size="10" font-weight="bold" fill="#000">Spe<tspan font-family="'DejaVu Sans Mono','Liberation Mono',monospace" letter-spacing="-0.55">I</tspan></text>
<text x="517.60" y="54.70" text-anchor="start" font-size="9.3" fill="#000">(15)</text>
<text x="556.90" y="90.40" text-anchor="start" font-size="10" font-weight="bold" fill="#000">Nde<tspan font-family="'DejaVu Sans Mono','Liberation Mono',monospace" letter-spacing="-0.55">I</tspan></text>
<text x="596.80" y="90.40" text-anchor="start" font-size="9.3" fill="#000">(250)</text>
<text x="575.00" y="102.40" text-anchor="start" font-size="10" font-weight="bold" fill="#000">SnaB<tspan font-family="'DejaVu Sans Mono','Liberation Mono',monospace" letter-spacing="-0.55">I</tspan></text>
<text x="621.30" y="102.40" text-anchor="start" font-size="9.3" fill="#000">(356)</text>
<text x="658.40" y="175.00" text-anchor="start" font-size="10" font-weight="bold" fill="#000">Afe<tspan font-family="'DejaVu Sans Mono','Liberation Mono',monospace" letter-spacing="-0.55">I</tspan></text>
<text x="693.50" y="175.00" text-anchor="start" font-size="9.3" fill="#000">(891)</text>
<text x="711.00" y="262.00" text-anchor="start" font-size="10" font-weight="bold" fill="#000">Sfi<tspan font-family="'DejaVu Sans Mono','Liberation Mono',monospace" letter-spacing="-0.55">I</tspan></text>
<text x="741.00" y="262.00" text-anchor="start" font-size="9.3" fill="#000">(1319)</text>
<text x="726.00" y="299.00" text-anchor="start" font-size="10" font-weight="bold" fill="#000">SgrA<tspan font-family="'DejaVu Sans Mono','Liberation Mono',monospace" letter-spacing="-0.55">I</tspan></text>
<text x="770.00" y="299.00" text-anchor="start" font-size="9.3" fill="#000">(1492)</text>
<text x="732.00" y="319.60" text-anchor="start" font-size="10" font-weight="bold" fill="#000">Sac<tspan font-family="'DejaVu Sans Mono','Liberation Mono',monospace" letter-spacing="-0.55">II</tspan></text>
<text x="773.60" y="319.60" text-anchor="start" font-size="9.3" fill="#000">(1607)</text>
<text x="735.60" y="331.60" text-anchor="start" font-size="10" font-weight="bold" fill="#000">BamH<tspan font-family="'DejaVu Sans Mono','Liberation Mono',monospace" letter-spacing="-0.55">I</tspan></text>
<text x="787.20" y="331.60" text-anchor="start" font-size="9.3" fill="#000">(1684)</text>
<text x="741.00" y="367.50" text-anchor="start" font-size="10" font-weight="bold" fill="#000">EcoR<tspan font-family="'DejaVu Sans Mono','Liberation Mono',monospace" letter-spacing="-0.55">I</tspan></text>
<text x="786.70" y="367.50" text-anchor="start" font-size="9.3" fill="#000">(1739)</text>
<text x="743.00" y="409.00" text-anchor="start" font-size="10" font-weight="bold" fill="#000">Hind<tspan font-family="'DejaVu Sans Mono','Liberation Mono',monospace" letter-spacing="-0.55">III</tspan></text>
<text x="796.20" y="409.00" text-anchor="start" font-size="9.3" fill="#000">(1961)</text>
<text x="742.60" y="421.00" text-anchor="start" font-size="10" font-weight="bold" fill="#000">Pml<tspan font-family="'DejaVu Sans Mono','Liberation Mono',monospace" letter-spacing="-0.55">I</tspan></text>
<text x="779.20" y="421.00" text-anchor="start" font-size="9.3" fill="#000">(2053)</text>
<text x="741.60" y="433.00" text-anchor="start" font-size="10" font-weight="bold" fill="#000">PaqC<tspan font-family="'DejaVu Sans Mono','Liberation Mono',monospace" letter-spacing="-0.55">I</tspan></text>
<text x="786.20" y="433.00" text-anchor="start" font-size="9.3" fill="#000">(2076)</text>
<text x="733.00" y="476.60" text-anchor="start" font-size="10" font-weight="bold" fill="#000">BmgB<tspan font-family="'DejaVu Sans Mono','Liberation Mono',monospace" letter-spacing="-0.55">I</tspan></text>
<text x="785.20" y="476.60" text-anchor="start" font-size="9.3" fill="#000">(2279)</text>
<text x="670.40" y="601.50" text-anchor="start" font-size="10" font-weight="bold" fill="#000">BspE<tspan font-family="'DejaVu Sans Mono','Liberation Mono',monospace" letter-spacing="-0.55">I</tspan></text>
<text x="715.50" y="601.50" text-anchor="start" font-size="9.3" fill="#000">(3031)</text>
<text x="660.60" y="613.50" text-anchor="start" font-size="10" font-weight="bold" fill="#000">PaeR7<tspan font-family="'DejaVu Sans Mono','Liberation Mono',monospace" letter-spacing="-0.55">I</tspan></text>
<text x="713.60" y="613.50" text-anchor="start" font-size="10" font-weight="normal" fill="#000">-</text>
<text x="720.70" y="613.50" text-anchor="start" font-size="10" font-weight="bold" fill="#000">PspX<tspan font-family="'DejaVu Sans Mono','Liberation Mono',monospace" letter-spacing="-0.55">I</tspan></text>
<text x="764.30" y="613.50" text-anchor="start" font-size="10" font-weight="normal" fill="#000">-</text>
<text x="771.40" y="613.50" text-anchor="start" font-size="10" font-weight="bold" fill="#000">Xho<tspan font-family="'DejaVu Sans Mono','Liberation Mono',monospace" letter-spacing="-0.55">I</tspan></text>
<text x="660.60" y="613.50" text-anchor="start" font-size="10" font-weight="bold" fill="#000"></text>
<text x="810.30" y="613.50" text-anchor="start" font-size="9.3" fill="#000">(3064)</text>
<text x="350.00" y="96.70" text-anchor="end" font-size="10" font-weight="normal" fill="#a020f0">pRS-marker</text>
<text x="216.50" y="96.70" text-anchor="start" font-size="9.3" fill="#a020f0">(7582 .. 7601)</text>
<text x="289.50" y="144.70" text-anchor="end" font-size="10" font-weight="normal" fill="#a020f0">Amp-R</text>
<text x="183.00" y="144.70" text-anchor="start" font-size="9.3" fill="#a020f0">(7165 .. 7184)</text>
<text x="174.60" y="390.20" text-anchor="end" font-size="10" font-weight="normal" fill="#a020f0">pBR322ori-F</text>
<text x="39.20" y="390.20" text-anchor="start" font-size="9.3" fill="#a020f0">(5863 .. 5882)</text>
<text x="175.40" y="424.10" text-anchor="end" font-size="10" font-weight="normal" fill="#a020f0">L4440</text>
<text x="72.00" y="424.10" text-anchor="start" font-size="9.3" fill="#a020f0">(5612 .. 5629)</text>
<text x="180.40" y="460.10" text-anchor="end" font-size="10" font-weight="normal" fill="#a020f0">M13/pUC Reverse</text>
<text x="18.00" y="460.10" text-anchor="start" font-size="9.3" fill="#a020f0">(5394 .. 5416)</text>
<text x="190.40" y="495.90" text-anchor="end" font-size="10" font-weight="normal" fill="#a020f0">M13 Reverse</text>
<text x="53.00" y="495.90" text-anchor="start" font-size="9.3" fill="#a020f0">(5381 .. 5397)</text>
<text x="204.00" y="531.90" text-anchor="end" font-size="10" font-weight="normal" fill="#a020f0">EBV-rev</text>
<text x="90.70" y="531.90" text-anchor="start" font-size="9.3" fill="#a020f0">(5302 .. 5321)</text>
<text x="207.00" y="543.90" text-anchor="end" font-size="10" font-weight="normal" fill="#a020f0">SV40pA-R</text>
<text x="84.70" y="543.90" text-anchor="start" font-size="9.3" fill="#a020f0">(5248 .. 5267)</text>
<text x="232.00" y="579.90" text-anchor="end" font-size="10" font-weight="normal" fill="#a020f0">Neo-F</text>
<text x="129.30" y="579.90" text-anchor="start" font-size="9.3" fill="#a020f0">(4907 .. 4926)</text>
<text x="289.00" y="645.90" text-anchor="end" font-size="10" font-weight="normal" fill="#a020f0">Neo-R</text>
<text x="184.90" y="645.90" text-anchor="start" font-size="9.3" fill="#a020f0">(4297 .. 4316)</text>
<text x="382.30" y="705.90" text-anchor="end" font-size="10" font-weight="normal" fill="#a020f0">SV40pro-F</text>
<text x="256.00" y="705.90" text-anchor="start" font-size="9.3" fill="#a020f0">(4089 .. 4108)</text>
<text x="599.30" y="120.40" text-anchor="start" font-size="10" font-weight="normal" fill="#a020f0">CMV-F</text>
<text x="645.90" y="120.40" text-anchor="start" font-size="9.3" fill="#a020f0">(535 .. 555)</text>
<text x="613.30" y="132.40" text-anchor="start" font-size="10" font-weight="normal" fill="#a020f0">T7</text>
<text x="637.40" y="132.40" text-anchor="start" font-size="9.3" fill="#a020f0">(629 .. 648)</text>
<text x="743.00" y="391.00" text-anchor="start" font-size="10" font-weight="normal" fill="#a020f0">IRES reverse</text>
<text x="821.20" y="391.00" text-anchor="start" font-size="9.3" fill="#a020f0">(1904 .. 1921)</text>
<text x="739.00" y="450.60" text-anchor="start" font-size="10" font-weight="normal" fill="#a020f0">IRES-F</text>
<text x="788.20" y="450.60" text-anchor="start" font-size="9.3" fill="#a020f0">(2131 .. 2150)</text>
<text x="726.00" y="498.70" text-anchor="start" font-size="10" font-weight="normal" fill="#a020f0">EGFP-N</text>
<text x="778.60" y="498.70" text-anchor="start" font-size="9.3" fill="#a020f0">(2359 .. 2380)</text>
<text x="702.50" y="555.40" text-anchor="start" font-size="10" font-weight="normal" fill="#a020f0">EXFP-R</text>
<text x="753.00" y="555.40" text-anchor="start" font-size="9.3" fill="#a020f0">(2620 .. 2639)</text>
<text x="684.00" y="583.40" text-anchor="start" font-size="10" font-weight="normal" fill="#a020f0">EGFP-C</text>
<text x="736.60" y="583.40" text-anchor="start" font-size="9.3" fill="#a020f0">(2967 .. 2988)</text>
<text x="624.30" y="649.60" text-anchor="start" font-size="10" font-weight="normal" fill="#a020f0">SP6</text>
<text x="654.90" y="649.60" text-anchor="start" font-size="9.3" fill="#a020f0">(3092 .. 3109)</text>
<text x="609.30" y="661.60" text-anchor="start" font-size="10" font-weight="normal" fill="#a020f0">BGH-rev</text>
<text x="665.00" y="661.60" text-anchor="start" font-size="9.3" fill="#a020f0">(3129 .. 3146)</text>
<text x="569.20" y="688.60" text-anchor="start" font-size="10" font-weight="normal" fill="#a020f0">F1ori-R</text>
<text x="617.80" y="688.60" text-anchor="start" font-size="9.3" fill="#a020f0">(3492 .. 3511)</text>
<text x="532.20" y="706.70" text-anchor="start" font-size="10" font-weight="normal" fill="#a020f0">F1ori-F</text>
<text x="580.30" y="706.70" text-anchor="start" font-size="9.3" fill="#a020f0">(3702 .. 3723)</text>
<text x="473.50" y="724.70" text-anchor="start" font-size="10" font-weight="normal" fill="#a020f0">pBABE 3'</text>
<text x="532.20" y="724.70" text-anchor="start" font-size="9.3" fill="#a020f0">(3842 .. 3862)</text>
<rect x="521.90" y="62.60" width="78.40" height="11.8" rx="3.2" ry="3.2" fill="#fff" stroke="#8a8a8a" stroke-width="1.2"/>
<text x="561.10" y="71.80" text-anchor="middle" font-size="10" fill="#000">CMV enhancer</text>
<rect x="735.50" y="340.60" width="32.70" height="11.8" rx="3.2" ry="3.2" fill="#a8d0dc" stroke="#2f8aa3" stroke-width="1.2"/>
<text x="751.85" y="349.80" text-anchor="middle" font-size="10" fill="#000">attB2</text>
<rect x="641.40" y="622.60" width="75.00" height="11.8" rx="3.2" ry="3.2" fill="#fff" stroke="#8a8a8a" stroke-width="1.2"/>
<text x="678.90" y="631.80" text-anchor="middle" font-size="10" fill="#000">SP6 promoter</text>
<rect x="98.30" y="432.20" width="88.50" height="11.8" rx="3.2" ry="3.2" fill="#a8d0dc" stroke="#2f8aa3" stroke-width="1.2"/>
<text x="142.55" y="441.40" text-anchor="middle" font-size="10" fill="#000">CAP binding site</text>
<rect x="128.50" y="468.50" width="64.80" height="11.8" rx="3.2" ry="3.2" fill="#a8d0dc" stroke="#2f8aa3" stroke-width="1.2"/>
<text x="160.90" y="477.70" text-anchor="middle" font-size="10" fill="#000">lac operator</text>
<text x="462.3" y="396.2" text-anchor="middle" font-size="10.1" font-weight="bold" fill="#000">pCDNA3.0_mitoNanobody IRES EGFP</text>
<text x="462.7" y="407.4" text-anchor="middle" font-size="9.8" fill="#000">7772 bp</text>
<text x="809.6" y="10.7" font-size="7.9" fill="#b4b4b4" stroke="#b4b4b4" stroke-width="0.15" font-family="'Liberation Sans',sans-serif" textLength="37" lengthAdjust="spacingAndGlyphs">Created by</text>
<text x="859.2" y="10.9" font-size="9.6" fill="#868c98" stroke="#868c98" stroke-width="0.3" font-family="'Liberation Sans',sans-serif" textLength="43.6" lengthAdjust="spacingAndGlyphs">SnapGene</text>
</svg></body></html>
